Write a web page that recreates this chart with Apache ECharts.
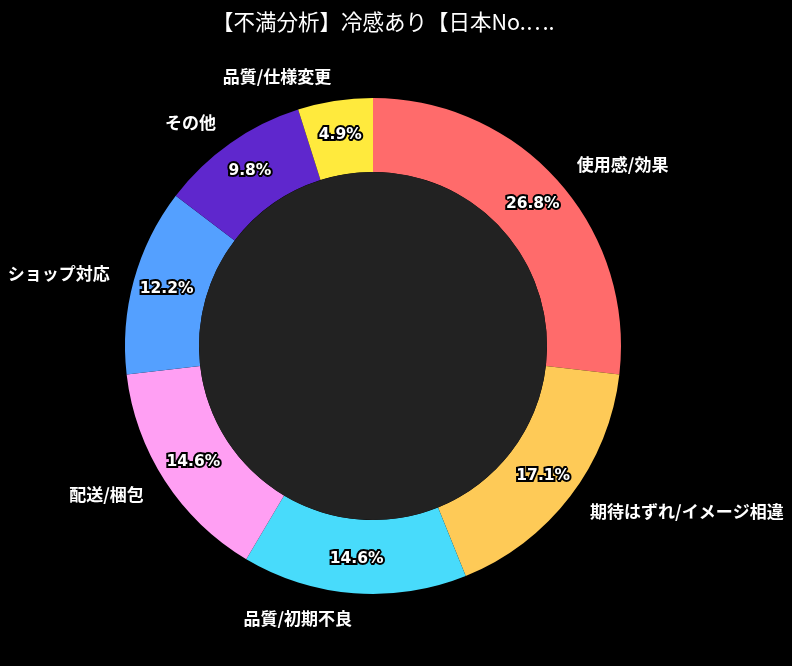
<!DOCTYPE html>
<html>
<head>
<meta charset="utf-8">
<script src="https://cdn.jsdelivr.net/npm/echarts@6/dist/echarts.min.js"></script>
<style>
  html, body { margin: 0; padding: 0; background: #000; }
  #chart { width: 792px; height: 666px; }
</style>
</head>
<body>
<div id="chart"></div>
<script>
// データ（件数）
const categories = ['使用感/効果', '期待はずれ/イメージ相違', '品質/初期不良', '配送/梱包', 'ショップ対応', 'その他', '品質/仕様変更'];
const counts     = [11, 7, 6, 6, 5, 4, 2];
const colors     = ['#FF6B6B', '#FECA57', '#48DBFB', '#FF9FF3', '#54A0FF', '#5F27CD', '#FFEA3D'];

const FONT = "'Noto Sans CJK JP', 'Noto Sans', sans-serif";
const CENTER = [373, 346];
const R_OUT = 248;
const R_IN  = 174;

const pieData = categories.map((name, i) => ({ name, value: counts[i], itemStyle: { color: colors[i] } }));
const labelData = categories.map((name, i) => ({ name, value: counts[i] }));

const chart = echarts.init(document.getElementById('chart'));

const option = {
  backgroundColor: '#000',
  animation: false,
  title: {
    text: '【不満分析】冷感あり【日本No.….',
    left: 212,
    top: 11,
    padding: 0,
    textStyle: { color: '#fff', fontSize: 21.5, fontWeight: 'normal', fontFamily: FONT }
  },
  series: [
    {
      // 外側ラベル（カテゴリ名）
      type: 'pie',
      radius: [R_IN, R_OUT],
      center: CENTER,
      startAngle: 90,
      clockwise: true,
      avoidLabelOverlap: false,
      silent: true,
      data: pieData,
      label: {
        show: true,
        position: 'outside',
        formatter: '{b}',
        color: '#fff',
        fontSize: 17,
        fontWeight: 'bold',
        fontFamily: FONT,
        distanceToLabelLine: 0
      },
      labelLine: { show: false, length: 25, length2: 0 }
    },
    {
      // 中央の穴
      type: 'pie',
      radius: [0, R_IN],
      center: CENTER,
      silent: true,
      label: { show: false },
      labelLine: { show: false },
      data: [{ name: 'hole', value: 1, itemStyle: { color: '#222222' } }]
    },
    {
      // 内側ラベル（割合）
      type: 'pie',
      radius: [R_IN, R_OUT],
      center: CENTER,
      startAngle: 90,
      clockwise: true,
      silent: true,
      percentPrecision: 1,
      data: labelData,
      itemStyle: { color: 'rgba(0,0,0,0)' },
      label: {
        show: true,
        position: 'inside',
        formatter: '{d}%',
        color: '#fff',
        fontSize: 15.5,
        fontWeight: 'bold',
        fontFamily: "'DejaVu Sans', sans-serif",
        textBorderColor: '#000',
        textBorderWidth: 4
      },
      labelLine: { show: false }
    }
  ]
};

chart.setOption(option);
</script>
</body>
</html>
